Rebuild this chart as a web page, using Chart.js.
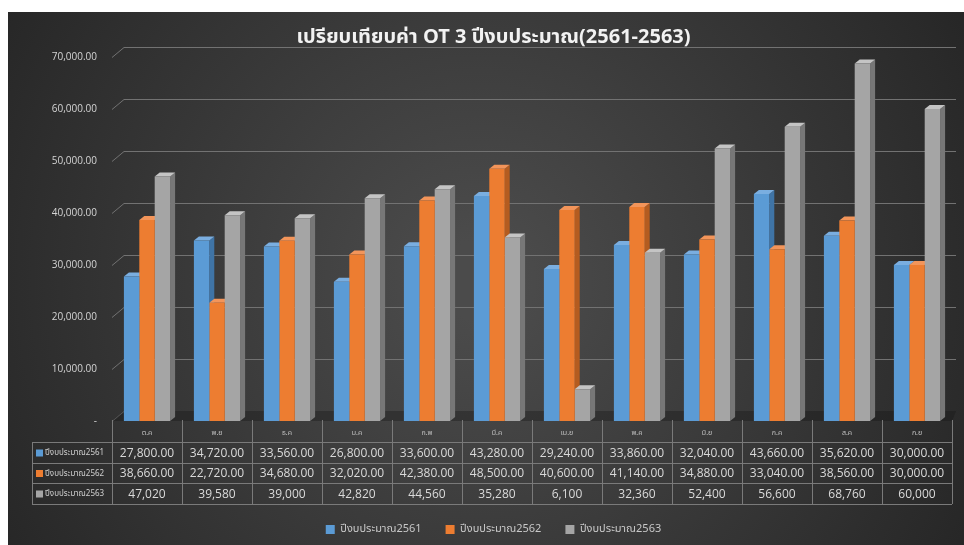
<!DOCTYPE html>
<html>
<head>
<meta charset="utf-8">
<script src="https://cdn.jsdelivr.net/npm/chart.js@4.4.1/dist/chart.umd.min.js"></script>
<style>
  html, body { margin: 0; padding: 0; background: #ffffff; }
  #wrap { width: 964px; height: 545px; }
</style>
</head>
<body>
<div id="wrap"><canvas id="otChart" width="964" height="545"></canvas></div>
<script>
// Months of the fiscal year (Oct - Sep)
const months = ['ต.ค', 'พ.ย', 'ธ.ค', 'ม.ค', 'ก.พ', 'มี.ค', 'เม.ย', 'พ.ค', 'มิ.ย', 'ก.ค', 'ส.ค', 'ก.ย'];
const seriesNames = ['ปีงบประมาณ2561', 'ปีงบประมาณ2562', 'ปีงบประมาณ2563'];
const ot2561 = [27800, 34720, 33560, 26800, 33600, 43280, 29240, 33860, 32040, 43660, 35620, 30000];
const ot2562 = [38660, 22720, 34680, 32020, 42380, 48500, 40600, 41140, 34880, 33040, 38560, 30000];
const ot2563 = [47020, 39580, 39000, 42820, 44560, 35280, 6100, 32360, 52400, 56600, 68760, 60000];
const yTicks = [0, 10000, 20000, 30000, 40000, 50000, 60000, 70000];

const FRONT = ['#5b9bd5', '#ed7d31', '#a5a5a5'];
const SIDE = ['#3f74a6', '#b45c20', '#777777'];
const TOP = ['#7aaee0', '#f3955a', '#c4c4c4'];
const TH_FONT = '"Noto Sans Thai", "Noto Sans", "DejaVu Sans", sans-serif';

function fmt2(v) {
    return v.toLocaleString('en-US', { minimumFractionDigits: 2, maximumFractionDigits: 2 });
}
function fmt0(v) {
    return v.toLocaleString('en-US');
}

// Dark gradient background with white margin
const backgroundPlugin = {
    id: 'bg',
    beforeDraw(chart) {
        const ctx = chart.ctx;
        ctx.save();
        const g = ctx.createRadialGradient(480, 280, 40, 480, 280, 560);
        g.addColorStop(0, '#4b4b4b');
        g.addColorStop(1, '#262626');
        ctx.fillStyle = g;
        ctx.fillRect(8, 12, chart.width - 8, chart.height - 12);
        ctx.restore();
    }
};

// Back wall gridlines + floor + 3D side/top faces of bars
const depthPlugin = {
    id: 'depth',
    beforeDatasetsDraw(chart) {
        const ctx = chart.ctx;
        const y = chart.scales.y;
        const area = chart.chartArea;
        ctx.save();
        // gridlines on the back wall
        ctx.strokeStyle = '#727272';
        ctx.lineWidth = 1;
        yTicks.forEach(v => {
            const py = Math.round(y.getPixelForValue(v)) + 0.5;
            ctx.beginPath();
            ctx.moveTo(area.left, py);
            ctx.lineTo(area.left + 12, py - 10);
            if (v > 0) ctx.lineTo(area.right + 4, py - 10);
            ctx.stroke();
        });
        // floor
        const b = y.getPixelForValue(0);
        ctx.fillStyle = 'rgba(20,20,20,0.35)';
        ctx.beginPath();
        ctx.moveTo(area.left, b);
        ctx.lineTo(area.left + 12, b - 10);
        ctx.lineTo(area.right + 4, b - 10);
        ctx.lineTo(area.right, b);
        ctx.closePath();
        ctx.fill();

        const d = 5, dy = 4;
        for (let i = 0; i < months.length; i++) {
            chart.data.datasets.forEach((ds, di) => {
                const el = chart.getDatasetMeta(di).data[i];
                if (!el) return;
                const p = el.getProps(['x', 'y', 'base', 'width'], true);
                const l = p.x - p.width / 2, r = p.x + p.width / 2;
                ctx.fillStyle = SIDE[di];
                ctx.beginPath();
                ctx.moveTo(r, p.y);
                ctx.lineTo(r + d, p.y - dy);
                ctx.lineTo(r + d, p.base - dy);
                ctx.lineTo(r, p.base);
                ctx.closePath();
                ctx.fill();
                ctx.fillStyle = TOP[di];
                ctx.beginPath();
                ctx.moveTo(l, p.y);
                ctx.lineTo(l + d, p.y - dy);
                ctx.lineTo(r + d, p.y - dy);
                ctx.lineTo(r, p.y);
                ctx.closePath();
                ctx.fill();
            });
        }
        ctx.restore();
    }
};

// Data table under the plot
const tablePlugin = {
    id: 'dataTable',
    afterDraw(chart) {
        const ctx = chart.ctx;
        const x = chart.scales.x;
        const area = chart.chartArea;
        const colW = (area.right - area.left) / months.length;
        const top = area.bottom - 1;
        const rows = [442, 463, 483, 504];
        const labelLeft = 32;
        const series = [ot2561, ot2562, ot2563];
        ctx.save();
        ctx.strokeStyle = '#7a7a7a';
        ctx.lineWidth = 1;
        // vertical lines
        for (let c = 0; c <= months.length; c++) {
            const px = Math.round(area.left + c * colW) + 0.5;
            ctx.beginPath();
            ctx.moveTo(px, top);
            ctx.lineTo(px, rows[3]);
            ctx.stroke();
        }
        ctx.beginPath();
        ctx.moveTo(labelLeft + 0.5, rows[0]);
        ctx.lineTo(labelLeft + 0.5, rows[3]);
        ctx.stroke();
        // horizontal lines
        rows.forEach(ry => {
            ctx.beginPath();
            ctx.moveTo(labelLeft, ry + 0.5);
            ctx.lineTo(area.right, ry + 0.5);
            ctx.stroke();
        });
        // row labels and values
        ctx.textBaseline = 'middle';
        series.forEach((vals, si) => {
            const cy = (rows[si] + rows[si + 1]) / 2 + 1;
            ctx.fillStyle = FRONT[si];
            ctx.fillRect(36, cy - 4, 7, 7);
            ctx.fillStyle = '#cfcfcf';
            ctx.font = '8px ' + TH_FONT;
            ctx.textAlign = 'left';
            ctx.fillText(seriesNames[si], 45, cy);
            ctx.font = '12px "Open Sans", "DejaVu Sans", sans-serif';
            ctx.fillStyle = '#dadada';
            ctx.textAlign = 'center';
            vals.forEach((v, i) => {
                ctx.fillText(si === 2 ? fmt0(v) : fmt2(v), x.getPixelForValue(i), cy);
            });
        });
        ctx.restore();
    }
};

const ctx = document.getElementById('otChart');
new Chart(ctx, {
    type: 'bar',
    data: {
        labels: months,
        datasets: [
            { label: seriesNames[0], data: ot2561, backgroundColor: FRONT[0] },
            { label: seriesNames[1], data: ot2562, backgroundColor: FRONT[1] },
            { label: seriesNames[2], data: ot2563, backgroundColor: FRONT[2] }
        ]
    },
    options: {
        responsive: false,
        animation: false,
        events: [],
        layout: { padding: { top: 6, left: 35, right: 12, bottom: 0 } },
        datasets: { bar: { categoryPercentage: 0.66, barPercentage: 1.0 } },
        plugins: {
            title: {
                display: true,
                text: 'เปรียบเทียบค่า OT 3 ปีงบประมาณ(2561-2563)',
                color: '#f2f2f2',
                font: { size: 20, weight: 'bold', family: TH_FONT },
                padding: { top: 21, bottom: 6 }
            },
            legend: {
                display: true,
                position: 'bottom',
                labels: {
                    color: '#c8c8c8',
                    boxWidth: 9,
                    boxHeight: 9,
                    padding: 24,
                    font: { size: 11, family: TH_FONT }
                }
            },
            tooltip: { enabled: false }
        },
        scales: {
            x: {
                grid: { display: false, drawTicks: false },
                border: { display: false },
                ticks: { color: '#c0c0c0', padding: 8, font: { size: 7, family: TH_FONT } },
                afterFit(scale) {
                    const lg = scale.chart.legend;
                    scale.height = 545 - 421 - (lg && lg.height ? lg.height : 32);
                }
            },
            y: {
                min: 0,
                max: 70000,
                grid: { display: false, drawTicks: false },
                border: { display: false },
                ticks: {
                    stepSize: 10000,
                    padding: 15,
                    color: '#d4d4d4',
                    font: { size: 10, family: '"Open Sans", "DejaVu Sans", sans-serif' },
                    callback: v => v === 0 ? '-' : fmt2(v)
                },
                afterFit(scale) { scale.width = 77; }
            }
        }
    },
    plugins: [backgroundPlugin, depthPlugin, tablePlugin]
});
</script>
</body>
</html>
